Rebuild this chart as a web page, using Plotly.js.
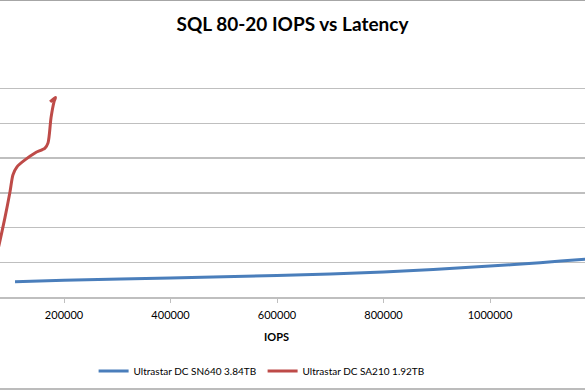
<!DOCTYPE html>
<html>
<head>
<meta charset="utf-8">
<script src="https://cdn.plot.ly/plotly-3.0.1.min.js"></script>
<style>
html,body{margin:0;padding:0;background:#fff;}
#chart{width:585px;height:390px;}
</style>
</head>
<body>
<div id="chart"></div>
<script>
// Data (IOPS vs latency in ms)
const sn640Name = "Ultrastar DC SN640 3.84TB";
const sn640Iops = [108000, 200000, 400000, 600000, 800000, 1000000, 1094000, 1178000, 1220000];
const sn640Lat  = [0.44, 0.48, 0.55, 0.62, 0.72, 0.89, 0.99, 1.09, 1.14];

const sa210Name = "Ultrastar DC SA210 1.92TB";
const sa210Iops = [62000, 80000, 89000, 98600, 104200, 111700, 126700, 145500, 164300, 170000, 175600, 181200, 184000, 174000];
const sa210Lat  = [0.40, 1.64, 2.28, 3.03, 3.52, 3.75, 3.95, 4.15, 4.29, 4.44, 5.16, 5.62, 5.75, 5.62];

const xTickVals = [0, 200000, 400000, 600000, 800000, 1000000, 1200000];
const xTickText = ["0", "200000", "400000", "600000", "800000", "1000000", "1200000"];

const traces = [
  {x: sn640Iops, y: sn640Lat, name: sn640Name, type: "scatter", mode: "lines",
   line: {color: "#4a7ebb", width: 3, shape: "spline", smoothing: 0.8}},
  {x: sa210Iops, y: sa210Lat, name: sa210Name, type: "scatter", mode: "lines",
   line: {color: "#be4b48", width: 3, shape: "spline", smoothing: 0.8}}
];

const layout = {
  width: 585, height: 390,
  margin: {l: 0, r: 0, t: 54, b: 93, pad: 0},
  paper_bgcolor: "#ffffff", plot_bgcolor: "#ffffff",
  font: {family: "Lato, 'Liberation Sans', sans-serif", color: "#000"},
  title: {text: "<b>SQL 80-20 IOPS vs Latency</b>", x: 0.5, xanchor: "center",
          y: 0.938, yanchor: "middle", yref: "container",
          font: {family: "Lato, 'Open Sans', sans-serif", size: 19, color: "#000"}},
  xaxis: {range: [79800, 1178400], tickvals: xTickVals, ticktext: xTickText,
          showgrid: false, zeroline: false, showline: true, linecolor: "#bfbfbf", linewidth: 1.5,
          ticks: "outside", ticklen: 4, tickcolor: "#bfbfbf", tickwidth: 1,
          tickfont: {size: 11, color: "#000"}, ticklabelstandoff: 3},
  yaxis: {range: [0, 7], dtick: 1, showticklabels: false, showgrid: true,
          gridcolor: "#bfbfbf", gridwidth: 1.5, zeroline: false, showline: false, ticks: ""},
  showlegend: true,
  legend: {orientation: "h", x: 0.16, xanchor: "left", y: -0.305, yanchor: "middle",
           font: {size: 10, color: "#000"}, entrywidth: 124, entrywidthmode: "pixels",
           bgcolor: "rgba(0,0,0,0)"},
  annotations: [
    {text: "<b>IOPS</b>", xref: "paper", yref: "paper", x: 276/585, y: (297-336)/243,
     xanchor: "center", yanchor: "middle", showarrow: false, font: {size: 11, color: "#000"}}
  ],
  shapes: [
    {type: "line", xref: "paper", yref: "paper", x0: 0, x1: 1, y0: (297-0.5)/243, y1: (297-0.5)/243,
     line: {color: "#a6a6a6", width: 1}},
    {type: "line", xref: "paper", yref: "paper", x0: 0, x1: 1, y0: (297-389)/243, y1: (297-389)/243,
     line: {color: "#a6a6a6", width: 1.5}}
  ]
};

Plotly.newPlot("chart", traces, layout, {displayModeBar: false, staticPlot: true});
</script>
</body>
</html>
